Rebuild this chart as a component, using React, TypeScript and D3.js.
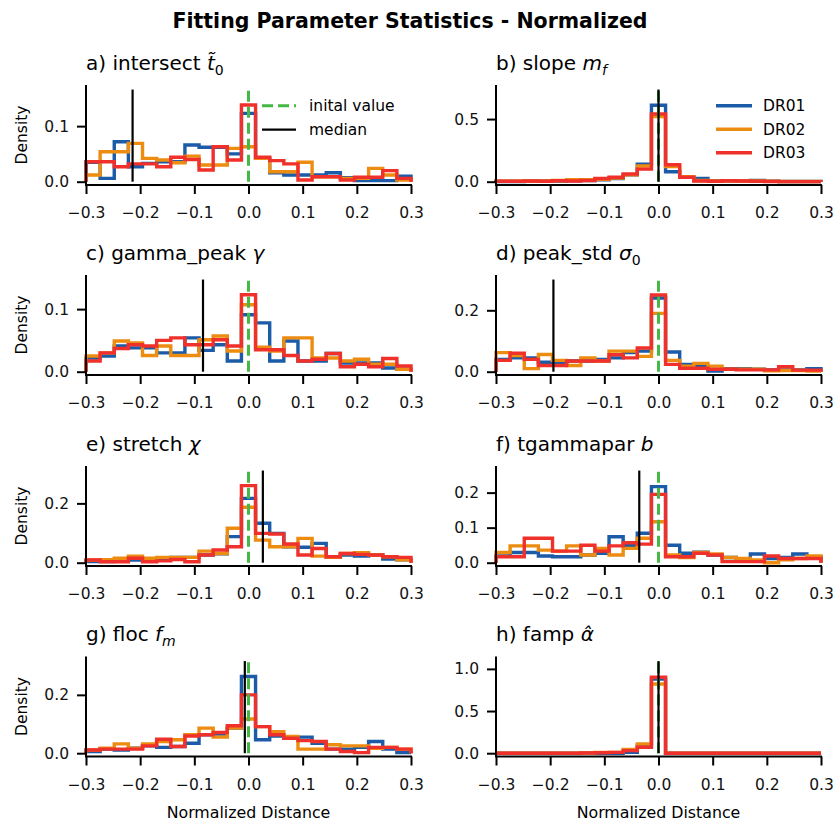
import React, { useEffect, useRef } from "react";
import * as d3 from "d3";

const TITLE = "Fitting Parameter Statistics - Normalized";
const SERIES = ["DR01", "DR02", "DR03"];
const COLORS = ["#1b5ba7", "#ec8c10", "#f0302a"];
const GREEN = "#46b846";
const X_TICKS = [-0.3, -0.2, -0.1, 0.0, 0.1, 0.2, 0.3];
const X_RANGE: [number, number] = [-0.3, 0.3];
const BIN_COUNT = 23;

// density per bin (23 bins over [-0.3, 0.3])
const intersectDR01 = [0.035, 0.006, 0.072, 0.027, 0.033, 0.036, 0.036, 0.066, 0.062, 0.062, 0.05, 0.123, 0.042, 0.016, 0.012, 0.012, 0.012, 0.016, 0.007, 0.002, 0.002, 0.002, 0.01];
const intersectDR02 = [0.012, 0.054, 0.054, 0.069, 0.042, 0.039, 0.034, 0.046, 0.03, 0.03, 0.06, 0.063, 0.042, 0.018, 0.018, 0.035, 0.009, 0.009, 0.006, 0.006, 0.024, 0.012, 0.003];
const intersectDR03 = [0.036, 0.036, 0.027, 0.032, 0.032, 0.027, 0.044, 0.04, 0.021, 0.063, 0.039, 0.138, 0.044, 0.038, 0.032, 0.003, 0.009, 0.009, 0.003, 0.008, 0.008, 0.02, 0.006];

const slopeDR01 = [0.002, 0.002, 0.003, 0.005, 0.005, 0.008, 0.01, 0.015, 0.025, 0.055, 0.14, 0.61, 0.08, 0.035, 0.025, 0.008, 0.005, 0.005, 0.01, 0.004, 0.002, 0.002, 0.002];
const slopeDR02 = [0.003, 0.003, 0.005, 0.005, 0.01, 0.015, 0.015, 0.02, 0.03, 0.055, 0.125, 0.52, 0.12, 0.04, 0.01, 0.005, 0.005, 0.005, 0.005, 0.003, 0.002, 0.002, 0.002];
const slopeDR03 = [0.003, 0.003, 0.005, 0.003, 0.008, 0.005, 0.01, 0.025, 0.035, 0.062, 0.1, 0.54, 0.135, 0.035, 0.006, 0.004, 0.008, 0.005, 0.003, 0.002, 0.001, 0.001, 0.001];

const gammaDR01 = [0.022, 0.025, 0.041, 0.038, 0.038, 0.03, 0.03, 0.054, 0.034, 0.043, 0.017, 0.091, 0.078, 0.017, 0.049, 0.017, 0.017, 0.029, 0.014, 0.014, 0.014, 0.006, 0.004];
const gammaDR02 = [0.025, 0.03, 0.049, 0.046, 0.026, 0.041, 0.026, 0.026, 0.051, 0.057, 0.033, 0.107, 0.039, 0.033, 0.054, 0.054, 0.022, 0.022, 0.017, 0.02, 0.012, 0.012, 0.004];
const gammaDR03 = [0.017, 0.03, 0.037, 0.043, 0.041, 0.05, 0.054, 0.043, 0.043, 0.051, 0.041, 0.123, 0.035, 0.035, 0.026, 0.017, 0.02, 0.029, 0.008, 0.012, 0.008, 0.021, 0.009];

const peakStdDR01 = [0.04, 0.045, 0.045, 0.031, 0.031, 0.035, 0.035, 0.04, 0.045, 0.062, 0.067, 0.24, 0.064, 0.024, 0.016, 0.002, 0.01, 0.01, 0.008, 0.006, 0.006, 0.006, 0.01];
const peakStdDR02 = [0.062, 0.053, 0.01, 0.056, 0.037, 0.02, 0.045, 0.035, 0.067, 0.067, 0.05, 0.19, 0.037, 0.018, 0.027, 0.018, 0.008, 0.008, 0.008, 0.003, 0.004, 0.004, 0.002];
const peakStdDR03 = [0.037, 0.06, 0.04, 0.02, 0.02, 0.035, 0.035, 0.035, 0.055, 0.045, 0.077, 0.25, 0.024, 0.011, 0.011, 0.008, 0.008, 0.006, 0.006, 0.006, 0.016, 0.005, 0.005];

const stretchDR01 = [0.004, 0.004, 0.005, 0.009, 0.009, 0.012, 0.018, 0.018, 0.026, 0.03, 0.088, 0.217, 0.133, 0.099, 0.054, 0.052, 0.065, 0.018, 0.026, 0.022, 0.026, 0.012, 0.01];
const stretchDR02 = [0.009, 0.01, 0.015, 0.022, 0.015, 0.018, 0.018, 0.018, 0.039, 0.031, 0.116, 0.187, 0.076, 0.054, 0.054, 0.082, 0.022, 0.018, 0.031, 0.034, 0.026, 0.02, 0.01];
const stretchDR03 = [0.009, 0.003, 0.003, 0.015, 0.003, 0.006, 0.011, 0.003, 0.026, 0.043, 0.054, 0.26, 0.099, 0.097, 0.063, 0.026, 0.048, 0.02, 0.031, 0.028, 0.026, 0.02, 0.018];

const tgammaDR01 = [0.019, 0.029, 0.029, 0.019, 0.017, 0.017, 0.022, 0.027, 0.074, 0.05, 0.084, 0.217, 0.05, 0.027, 0.03, 0.022, 0.015, 0.01, 0.025, 0.012, 0.015, 0.025, 0.017];
const tgammaDR02 = [0.029, 0.048, 0.048, 0.036, 0.033, 0.048, 0.022, 0.041, 0.022, 0.041, 0.07, 0.117, 0.022, 0.015, 0.029, 0.025, 0.015, 0.012, 0.008, 0.0, 0.008, 0.012, 0.019];
const tgammaDR03 = [0.017, 0.017, 0.07, 0.07, 0.033, 0.033, 0.05, 0.033, 0.048, 0.057, 0.053, 0.195, 0.017, 0.017, 0.027, 0.022, 0.003, 0.003, 0.003, 0.019, 0.012, 0.012, 0.012];

const flocDR01 = [0.006, 0.014, 0.011, 0.017, 0.025, 0.02, 0.023, 0.034, 0.063, 0.066, 0.086, 0.263, 0.046, 0.059, 0.051, 0.055, 0.034, 0.014, 0.014, 0.02, 0.04, 0.014, 0.002];
const flocDR02 = [0.011, 0.017, 0.032, 0.017, 0.032, 0.04, 0.046, 0.063, 0.086, 0.055, 0.086, 0.117, 0.091, 0.074, 0.057, 0.014, 0.014, 0.029, 0.025, 0.025, 0.017, 0.02, 0.014];
const flocDR03 = [0.011, 0.014, 0.014, 0.014, 0.025, 0.048, 0.023, 0.059, 0.063, 0.071, 0.094, 0.2, 0.091, 0.063, 0.051, 0.043, 0.04, 0.014, 0.006, 0.002, 0.02, 0.02, 0.014];

const fampDR01 = [0, 0, 0, 0, 0, 0, 0.004, 0, 0, 0.01, 0.087, 0.88, 0, 0, 0, 0, 0, 0, 0, 0, 0, 0, 0];
const fampDR02 = [0, 0, 0, 0, 0, 0, 0.002, 0.01, 0.01, 0.045, 0.11, 0.82, 0, 0, 0, 0, 0, 0, 0, 0, 0, 0, 0];
const fampDR03 = [0, 0, 0, 0, 0, 0, 0.002, 0.005, 0.01, 0.03, 0.07, 0.9, 0, 0, 0, 0, 0, 0, 0, 0, 0, 0, 0];

const MEDIANS = [-0.214, 0.0, -0.084, -0.194, 0.0265, -0.0355, -0.0068, 0.0];
const INITIAL = 0.0;

const panels = [
  { name: "a) intersect ", sym: "t\u0303", sub: "0", data: [intersectDR01, intersectDR02, intersectDR03], yMax: 0.174, yTicks: [0, 0.1] },
  { name: "b) slope ", sym: "m", sub: "f", subItalic: true, data: [slopeDR01, slopeDR02, slopeDR03], yMax: 0.772, yTicks: [0, 0.5] },
  { name: "c) gamma_peak ", sym: "\u03b3", sub: "", data: [gammaDR01, gammaDR02, gammaDR03], yMax: 0.1545, yTicks: [0, 0.1] },
  { name: "d) peak_std ", sym: "\u03c3", sub: "0", data: [peakStdDR01, peakStdDR02, peakStdDR03], yMax: 0.315, yTicks: [0, 0.2] },
  { name: "e) stretch ", sym: "\u03c7", sub: "", data: [stretchDR01, stretchDR02, stretchDR03], yMax: 0.326, yTicks: [0, 0.2] },
  { name: "f) tgammapar ", sym: "b", sub: "", data: [tgammaDR01, tgammaDR02, tgammaDR03], yMax: 0.276, yTicks: [0, 0.1, 0.2] },
  { name: "g) floc ", sym: "f", sub: "m", subItalic: true, data: [flocDR01, flocDR02, flocDR03], yMax: 0.3315, yTicks: [0, 0.2] },
  { name: "h) famp ", sym: "\u03b1\u0302", sub: "", data: [fampDR01, fampDR02, fampDR03], yMax: 1.147, yTicks: [0, 0.5, 1.0] },
];

const FONT = "DejaVu Sans";
const COL_LEFT = [86, 496];
const PLOT_W = 325;
const ROW_TOP = [85, 275, 466, 656.5];
const ZERO_OFF = 96.7;
const AXIS_OFF = 100;

export default function App() {
  const ref = useRef<SVGSVGElement>(null);

  useEffect(() => {
    const svg = d3.select(ref.current);
    svg.selectAll("*").remove();

    svg.append("text")
      .attr("x", 410).attr("y", 28)
      .attr("text-anchor", "middle")
      .attr("font-family", FONT).attr("font-weight", "bold").attr("font-size", 20.5)
      .text(TITLE);

    const edges = d3.range(BIN_COUNT + 1).map(i => X_RANGE[0] + i * (X_RANGE[1] - X_RANGE[0]) / BIN_COUNT);

    panels.forEach((p, i) => {
      const col = i % 2;
      const row = Math.floor(i / 2);
      const left = COL_LEFT[col];
      const top = ROW_TOP[row];
      const zeroY = top + ZERO_OFF;
      const bottom = top + AXIS_OFF;

      const x = d3.scaleLinear().domain(X_RANGE).range([left, left + PLOT_W]);
      const y = d3.scaleLinear().domain([0, p.yMax]).range([zeroY, top]);

      const g = svg.append("g");

      // panel title
      const t = g.append("text")
        .attr("x", left).attr("y", top - 15.5)
        .attr("font-family", FONT).attr("font-size", 20);
      t.append("tspan").text(p.name);
      t.append("tspan").attr("font-style", "italic").text(p.sym);
      if (p.sub) {
        t.append("tspan")
          .attr("font-size", 14).attr("dy", 5)
          .attr("font-style", p.subItalic ? "italic" : "normal")
          .text(p.sub);
      }

      // step histograms
      const line = d3.line<[number, number]>()
        .x(d => x(d[0])).y(d => y(d[1]))
        .curve(d3.curveStepAfter);
      p.data.forEach((vals, s) => {
        const pts: [number, number][] = [[edges[0], 0]];
        edges.forEach((e, k) => pts.push([e, vals[Math.min(k, BIN_COUNT - 1)]]));
        pts.push([edges[BIN_COUNT], 0]);
        g.append("path")
          .attr("d", line(pts))
          .attr("fill", "none")
          .attr("stroke", COLORS[s])
          .attr("stroke-width", 3.4)
          .attr("stroke-linejoin", "miter");
      });

      // initial value + median
      const vTop = y(p.yMax * 0.953);
      g.append("line")
        .attr("x1", x(INITIAL)).attr("x2", x(INITIAL))
        .attr("y1", zeroY).attr("y2", vTop)
        .attr("stroke", GREEN).attr("stroke-width", 3)
        .attr("stroke-dasharray", "11,5");
      g.append("line")
        .attr("x1", x(MEDIANS[i])).attr("x2", x(MEDIANS[i]))
        .attr("y1", zeroY).attr("y2", vTop)
        .attr("stroke", "black").attr("stroke-width", 2.2);

      // axes
      const xAxis = d3.axisBottom(x)
        .tickValues(X_TICKS)
        .tickSize(9).tickSizeOuter(0).tickPadding(13)
        .tickFormat(d3.format(".1f"));
      const gx = g.append("g").attr("transform", `translate(0,${bottom})`).call(xAxis);
      gx.select(".domain").remove();
      gx.selectAll("line").attr("stroke-width", 2);
      gx.selectAll("text").attr("font-family", FONT).attr("font-size", 15.5).attr("fill", "#111");

      const yAxis = d3.axisLeft(y)
        .tickValues(p.yTicks)
        .tickSize(9).tickSizeOuter(0).tickPadding(8)
        .tickFormat(d3.format(".1f"));
      const gy = g.append("g").attr("transform", `translate(${left},0)`).call(yAxis);
      gy.select(".domain").remove();
      gy.selectAll("line").attr("stroke-width", 2);
      gy.selectAll("text").attr("font-family", FONT).attr("font-size", 15.5).attr("fill", "#111");

      // spines
      g.append("line")
        .attr("x1", left).attr("x2", left).attr("y1", top).attr("y2", bottom)
        .attr("stroke", "black").attr("stroke-width", 2);
      g.append("line")
        .attr("x1", left - 1).attr("x2", left + PLOT_W + 1).attr("y1", bottom).attr("y2", bottom)
        .attr("stroke", "black").attr("stroke-width", 2);

      if (col === 0) {
        g.append("text")
          .attr("transform", `translate(27,${(top + bottom) / 2}) rotate(-90)`)
          .attr("text-anchor", "middle")
          .attr("font-family", FONT).attr("font-size", 15.5)
          .text("Density");
      }
      if (row === 3) {
        g.append("text")
          .attr("x", left + PLOT_W / 2).attr("y", 818)
          .attr("text-anchor", "middle")
          .attr("font-family", FONT).attr("font-size", 15.8)
          .text("Normalized Distance");
      }

      // legends
      if (i === 0) {
        const items = [
          { label: "inital value", color: GREEN, dash: "11,5", w: 3 },
          { label: "median", color: "black", dash: null, w: 2.2 },
        ];
        items.forEach((it, k) => {
          const ly = top + 20.7 + k * 24;
          g.append("line")
            .attr("x1", left + 176).attr("x2", left + 210)
            .attr("y1", ly).attr("y2", ly)
            .attr("stroke", it.color).attr("stroke-width", it.w)
            .attr("stroke-dasharray", it.dash);
          g.append("text")
            .attr("x", left + 223).attr("y", ly).attr("dy", "0.35em")
            .attr("font-family", FONT).attr("font-size", 15.5)
            .text(it.label);
        });
      }
      if (i === 1) {
        SERIES.forEach((s, k) => {
          const ly = top + 20.7 + k * 23.5;
          g.append("line")
            .attr("x1", left + 220).attr("x2", left + 256)
            .attr("y1", ly).attr("y2", ly)
            .attr("stroke", COLORS[k]).attr("stroke-width", 3.5);
          g.append("text")
            .attr("x", left + 267).attr("y", ly).attr("dy", "0.35em")
            .attr("font-family", FONT).attr("font-size", 15.5)
            .text(s);
        });
      }
    });
  }, []);

  return (
    <svg
      ref={ref}
      width={838}
      height={824}
      style={{ position: "absolute", left: 0, top: 0, background: "white" }}
    />
  );
}
